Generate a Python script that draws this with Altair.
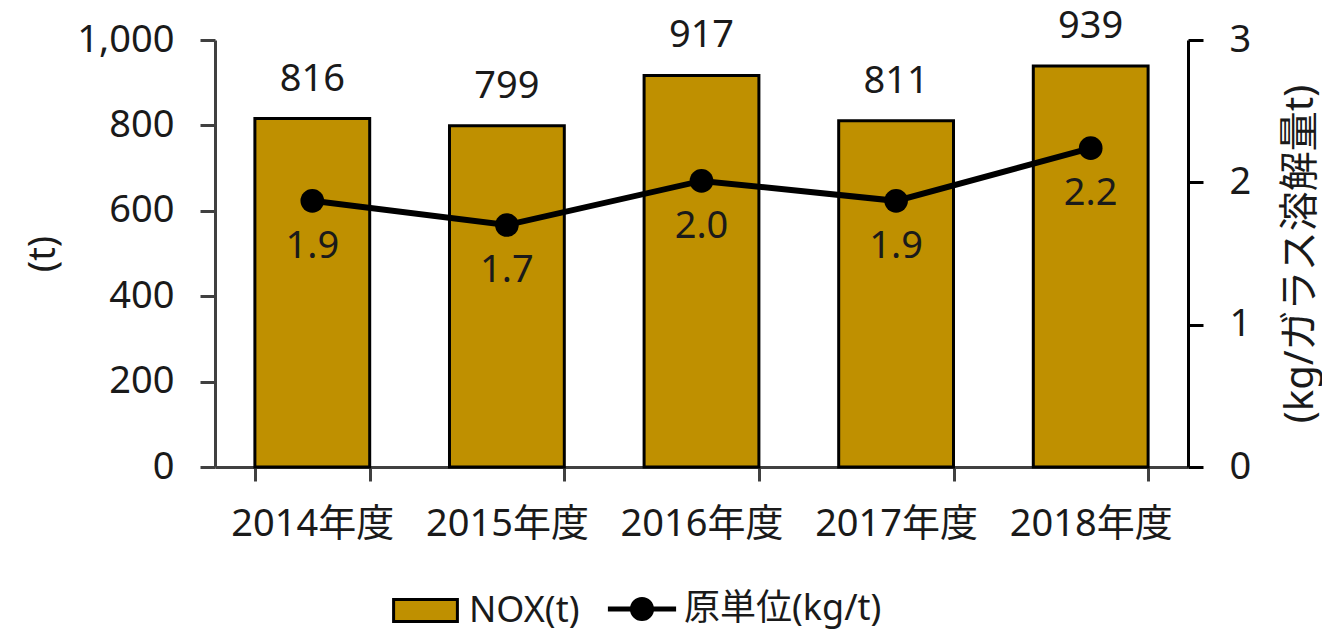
import altair as alt
import pandas as pd

years = ["2014年度", "2015年度", "2016年度", "2017年度", "2018年度"]
nox = [816, 799, 917, 811, 939]
intensity = [1.87, 1.70, 2.01, 1.87, 2.24]
bar_series = "NOX(t)"
line_series = "原単位(kg/t)"

df = pd.DataFrame({"year": years, "nox": nox, "intensity": intensity,
                   "bs": [bar_series] * 5, "ls": [line_series] * 5})

FONT = "'Noto Sans', 'Noto Sans CJK JP'"
GOLD = "#BF9000"

x = alt.X("year:N", sort=years, title=None,
          scale=alt.Scale(paddingInner=0.41, paddingOuter=0.205),
          axis=alt.Axis(labelAngle=0, tickBand="extent", tickSize=14, labelPadding=24,
                        domainColor="#404040", tickColor="#404040", domainWidth=3,
                        tickWidth=3, labelFontSize=38))

rect_path = "M-1.45,-0.5H1.45V0.5H-1.45Z"
line_path = ("M-1.55,-0.11H1.55V0.11H-1.55Z "
             "M0.55,0A0.55,0.55,0,1,1,-0.55,0A0.55,0.55,0,1,1,0.55,0Z")

bars = alt.Chart(df).mark_bar(stroke="black", strokeWidth=3).encode(
    x=x,
    y=alt.Y("nox:Q", title="(t)",
            scale=alt.Scale(domain=[0, 1000]),
            axis=alt.Axis(values=[0, 200, 400, 600, 800, 1000], format=",.0f",
                          tickSize=15, labelPadding=26, domainColor="#404040",
                          tickColor="#404040", domainWidth=3, tickWidth=3,
                          labelFontSize=38, titleFontSize=38, titlePadding=14)),
    fill=alt.Fill("bs:N", scale=alt.Scale(domain=[bar_series], range=[GOLD]),
                  legend=alt.Legend(title=None, orient="none", legendX=187, legendY=547,
                                    symbolType=rect_path, symbolSize=1936,
                                    symbolStrokeColor="black", symbolStrokeWidth=3,
                                    labelFontSize=36, labelOffset=20, labelLimit=400)),
)
bar_text = alt.Chart(df).mark_text(baseline="alphabetic", dy=-28, fontSize=38,
                                   color="#1a1a1a").encode(
    x=alt.X("year:N", sort=years), y="nox:Q", text=alt.Text("nox:Q"))

line = alt.Chart(df).mark_line(color="black", strokeWidth=6).encode(
    x=alt.X("year:N", sort=years),
    y=alt.Y("intensity:Q", title="(kg/ガラス溶解量t)",
            scale=alt.Scale(domain=[0, 3]),
            axis=alt.Axis(values=[0, 1, 2, 3], format="d", tickSize=15, labelPadding=26,
                          labelOverlap=False,
                          domainColor="black", tickColor="black", domainWidth=3,
                          tickWidth=3, labelFontSize=38, titleFontSize=40,
                          titleAngle=270, titleBaseline="top", titlePadding=30)),
)
points = alt.Chart(df).mark_circle(size=560, opacity=1).encode(
    x=alt.X("year:N", sort=years), y="intensity:Q",
    color=alt.Color("ls:N", scale=alt.Scale(domain=[line_series], range=["black"]),
                    legend=alt.Legend(title=None, orient="none", legendX=405, legendY=547,
                                      symbolType=line_path, symbolSize=1936,
                                      symbolStrokeWidth=0,
                                      labelFontSize=36, labelOffset=20, labelLimit=400)),
)
line_text = alt.Chart(df).mark_text(baseline="alphabetic", dy=57, fontSize=38,
                                    color="#1a1a1a").encode(
    x=alt.X("year:N", sort=years), y="intensity:Q",
    text=alt.Text("intensity:Q", format=".1f"))

left = alt.layer(bars, bar_text)
right = alt.layer(line, points, line_text)

chart = alt.layer(left, right).resolve_scale(
    y="independent", color="independent", fill="independent"
).resolve_legend(color="independent", fill="independent").properties(
    width=973, height=427, autosize="none",
    padding={"left": 207, "top": 32, "right": 134, "bottom": 164},
).configure_view(stroke=None).configure_axis(
    grid=False, labelFont=FONT, titleFont=FONT, labelColor="#1a1a1a",
    titleColor="#1a1a1a", titleFontWeight="normal",
).configure_legend(labelFont=FONT, labelColor="#1a1a1a").configure_text(font=FONT)

chart.save("out.html", embed_options={"renderer": "svg", "actions": False})
